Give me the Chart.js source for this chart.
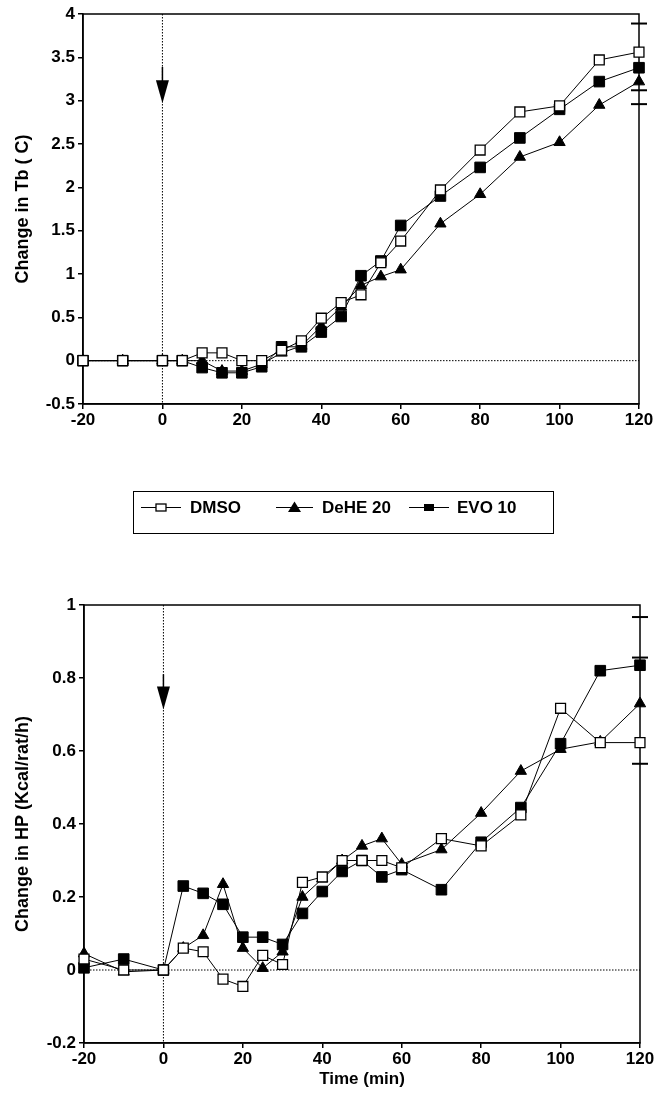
<!DOCTYPE html>
<html>
<head>
<meta charset="utf-8">
<script src="https://cdn.jsdelivr.net/npm/chart.js@4.4.0/dist/chart.umd.min.js"></script>
<style>
body{margin:0;background:#fff;width:664px;height:1096px;position:relative;overflow:hidden;font-family:'Liberation Sans',Arial,sans-serif;}
#c1{position:absolute;left:0;top:0;}
#c2{position:absolute;left:0;top:560px;}
#legend{position:absolute;left:133px;top:491px;width:421px;height:43px;border:1.5px solid #000;box-sizing:border-box;}
#legend canvas{position:absolute;left:0;top:0;}
#legend span{position:absolute;top:6px;font-size:17px;line-height:20px;font-weight:bold;color:#000;white-space:nowrap;}
</style>
</head>
<body>
<canvas id="c1" width="664" height="440"></canvas>
<div id="legend">
  <canvas id="lg" width="418" height="40"></canvas>
  <span style="left:56px">DMSO</span>
  <span style="left:188px">DeHE 20</span>
  <span style="left:323px">EVO 10</span>
</div>
<canvas id="c2" width="664" height="536"></canvas>
<script>
// time after injection (min)
var times = [-20, -10, 0, 5, 10, 15, 20, 25, 30, 35, 40, 45, 50, 55, 60, 70, 80, 90, 100, 110, 120];
var timeTicks = [-20, 0, 20, 40, 60, 80, 100, 120];

// change in body temperature
var dmsoTb = [0, 0, 0, 0, 0.09, 0.09, 0, 0, 0.12, 0.23, 0.49, 0.67, 0.76, 1.13, 1.38, 1.97, 2.43, 2.87, 2.94, 3.47, 3.56];
var deheTb = [0, 0, 0, 0, 0.0, -0.12, -0.12, -0.04, 0.09, 0.17, 0.40, 0.62, 0.87, 0.97, 1.05, 1.58, 1.92, 2.35, 2.52, 2.95, 3.22];
var evoTb  = [0, 0, 0, 0, -0.08, -0.14, -0.14, -0.07, 0.16, 0.16, 0.33, 0.51, 0.98, 1.15, 1.56, 1.90, 2.23, 2.57, 2.90, 3.22, 3.38];
var tbTicks = [-0.5, 0, 0.5, 1, 1.5, 2, 2.5, 3, 3.5, 4];
var tbErrEnds = [3.89, 3.12, 2.96];   // SE bar ends at 120 min
var tbArrow = [3.39, 2.97];           // injection arrow: start, tip

// change in heat production
var dmsoHP = [0.03, 0.0, 0.0, 0.06, 0.05, -0.025, -0.045, 0.04, 0.015, 0.24, 0.255, 0.30, 0.30, 0.30, 0.28, 0.36, 0.34, 0.425, 0.717, 0.623, 0.623];
var deheHP = [0.045, -0.005, 0.0, 0.06, 0.095, 0.235, 0.06, 0.005, 0.05, 0.20, 0.25, 0.30, 0.34, 0.36, 0.29, 0.33, 0.43, 0.545, 0.605, 0.625, 0.73];
var evoHP  = [0.006, 0.03, 0.0, 0.23, 0.21, 0.18, 0.09, 0.09, 0.07, 0.155, 0.215, 0.27, 0.30, 0.255, 0.275, 0.22, 0.35, 0.445, 0.62, 0.82, 0.835];
var hpTicks = [-0.2, 0, 0.2, 0.4, 0.6, 0.8, 1];
var hpErrEnds = [0.967, 0.856, 0.565];
var hpArrow = [0.81, 0.714];

Chart.defaults.font.family = "'Liberation Sans', Arial, sans-serif";
Chart.defaults.color = '#000';

function pts(ys) {
  return times.map(function(t, i) { return {x: t, y: ys[i]}; });
}

// dotted zero lines, injection arrow and the box round the plot
var framePlugin = {
  id: 'frame',
  beforeDatasetsDraw: function(chart, args, opts) {
    var a = chart.chartArea, xs = chart.scales.x, ys = chart.scales.y, ctx = chart.ctx;
    var x0 = xs.getPixelForValue(0), y0 = ys.getPixelForValue(0);
    ctx.save();
    ctx.strokeStyle = '#000';
    ctx.fillStyle = '#000';
    ctx.lineWidth = 1;
    ctx.setLineDash([1.5, 1.5]);
    ctx.beginPath();
    ctx.moveTo(x0, a.top); ctx.lineTo(x0, a.bottom);
    ctx.moveTo(a.left, y0); ctx.lineTo(a.right, y0);
    ctx.stroke();
    ctx.setLineDash([]);

    var yStart = ys.getPixelForValue(opts.arrow[0]), yTip = ys.getPixelForValue(opts.arrow[1]);
    ctx.lineWidth = 1.5;
    ctx.beginPath();
    ctx.moveTo(x0, yStart); ctx.lineTo(x0, yTip - 20);
    ctx.stroke();
    ctx.beginPath();
    ctx.moveTo(x0 - 6.5, yTip - 23); ctx.lineTo(x0 + 6.5, yTip - 23); ctx.lineTo(x0, yTip);
    ctx.closePath(); ctx.fill();

    ctx.lineWidth = 1.5;
    ctx.strokeRect(a.left, a.top, a.right - a.left, a.bottom - a.top);
    ctx.restore();
  }
};

function makeChart(id, series, errEnds, yTicks, yTitle, arrow, layout) {
  var ctx = document.getElementById(id).getContext('2d');
  return new Chart(ctx, {
    type: 'line',
    data: {
      datasets: [
        {label: 'DMSO', data: pts(series[0]), borderColor: '#000', borderWidth: 1,
         pointStyle: 'rect', pointRadius: 7, pointBackgroundColor: '#fff', pointBorderColor: '#000', pointBorderWidth: 1.3, clip: false},
        {label: 'DeHE 20', data: pts(series[1]), borderColor: '#000', borderWidth: 1,
         pointStyle: 'triangle', pointRadius: 6.5, pointBackgroundColor: '#000', pointBorderColor: '#000', pointBorderWidth: 1, clip: false},
        {label: 'EVO 10', data: pts(series[2]), borderColor: '#000', borderWidth: 1,
         pointStyle: 'rect', pointRadius: 7.5, pointBackgroundColor: '#000', pointBorderColor: '#000', pointBorderWidth: 1, clip: false},
        {label: 'SE', data: errEnds.map(function(v) { return {x: 120, y: v}; }), showLine: false,
         pointStyle: 'line', pointRadius: 8, pointBorderColor: '#000', pointBorderWidth: 2, clip: false}
      ]
    },
    options: {
      responsive: false,
      animation: false,
      events: [],
      layout: {padding: layout.padding},
      plugins: {legend: {display: false}, tooltip: {enabled: false}, frame: {arrow: arrow}},
      scales: {
        x: {
          type: 'linear', min: -20, max: 120,
          afterBuildTicks: function(ax) { ax.ticks = timeTicks.map(function(v) { return {value: v}; }); },
          afterFit: function(ax) { ax.height = layout.xHeight; },
          grid: {drawOnChartArea: false, color: '#000', lineWidth: 1.5, tickLength: 5},
          border: {color: '#000', width: 1.5},
          ticks: {color: '#000', font: {size: 17, weight: 'bold'}, padding: 1, maxRotation: 0, autoSkip: false,
                  callback: function(v) { return String(v); }},
          title: {display: layout.xTitle !== '', text: layout.xTitle, color: '#000',
                  font: {size: 17, weight: 'bold'}, padding: {top: 0, bottom: 6}}
        },
        y: {
          type: 'linear', min: yTicks[0], max: yTicks[yTicks.length - 1],
          afterBuildTicks: function(ax) { ax.ticks = yTicks.map(function(v) { return {value: v}; }); },
          afterFit: function(ax) { ax.width = layout.yWidth; },
          grid: {drawOnChartArea: false, color: '#000', lineWidth: 1.5, tickLength: 5},
          border: {color: '#000', width: 1.5},
          ticks: {color: '#000', font: {size: 17, weight: 'bold'}, padding: 3, autoSkip: false,
                  callback: function(v) { return String(Math.round(v * 10) / 10); }},
          title: {display: true, text: yTitle, color: '#000', font: {size: 18, weight: 'bold'}, padding: {top: 12, bottom: 0}}
        }
      }
    },
    plugins: [framePlugin]
  });
}

makeChart('c1', [dmsoTb, deheTb, evoTb], tbErrEnds, tbTicks, 'Change in Tb ( C)', tbArrow,
  {padding: {top: 14, right: 25, left: 0, bottom: 0}, xHeight: 36, yWidth: 83, xTitle: ''});

makeChart('c2', [dmsoHP, deheHP, evoHP], hpErrEnds, hpTicks, 'Change in HP (Kcal/rat/h)', hpArrow,
  {padding: {top: 45, right: 24, left: 0, bottom: 0}, xHeight: 53, yWidth: 84, xTitle: 'Time (min)'});

// legend samples: line with the series marker
(function() {
  var c = document.getElementById('lg').getContext('2d');
  var cy = 15.5;
  var items = [[7, 47, 'open'], [142, 179, 'tri'], [275, 315, 'fill']];
  c.strokeStyle = '#000'; c.fillStyle = '#000'; c.lineWidth = 1;
  items.forEach(function(it) {
    var mx = (it[0] + it[1]) / 2;
    c.beginPath(); c.moveTo(it[0], cy); c.lineTo(it[1], cy); c.stroke();
    if (it[2] === 'open') {
      c.fillStyle = '#fff'; c.fillRect(mx - 5, cy - 3.5, 10, 7);
      c.lineWidth = 1.3; c.strokeRect(mx - 5, cy - 3.5, 10, 7); c.lineWidth = 1; c.fillStyle = '#000';
    } else if (it[2] === 'tri') {
      c.beginPath(); c.moveTo(mx, cy - 6); c.lineTo(mx + 6.5, cy + 4.5); c.lineTo(mx - 6.5, cy + 4.5); c.closePath(); c.fill();
    } else {
      c.fillRect(mx - 5, cy - 3.5, 10, 7);
    }
  });
})();
</script>
</body>
</html>
